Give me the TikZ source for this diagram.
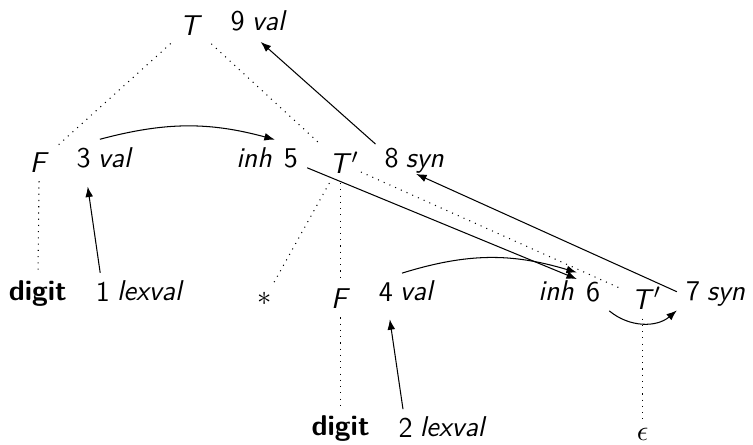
\documentclass[tikz,border=0pt]{standalone}
\usepackage{amsmath}
\usetikzlibrary{arrows.meta}

\begin{document}
\begin{tikzpicture}[font=\sffamily\fontsize{11}{13}\selectfont,
        nm/.style={font=\sffamily\itshape\fontsize{11}{13}\selectfont, inner sep=0pt, text height=0.69em, text depth=0pt},
        tree/.style={dotted},
        dep/.style={-{Latex[length=4pt]}},
        far/.style={dep, shorten >=3.5pt}]
        \useasboundingbox (0,0) rectangle (10.17,6.01);

        % parse tree
        \node (T) at (2.58,5.67) {\textit{T}};
        \node (F1) at (0.53,3.82) {\textit{F}};
        \node (Tp1) at (4.60,3.81) {\textit{T}\rlap{$'$}};
        \node (d1) at (0.51,2.04) {\textbf{digit}};
        \node (ast) at (3.58,1.98) {$*$};
        \node (F2) at (4.60,1.98) {\textit{F}};
        \node (Tp2) at (8.68,1.98) {\textit{T}\rlap{$'$}};
        \node (d2) at (4.60,0.22) {\textbf{digit}};
        \node (eps) at (8.68,0.15) {$\epsilon$};

        \draw[tree] (T) -- (F1);
        \draw[tree] (T) -- (Tp1);
        \draw[tree] (F1) -- (d1);
        \draw[tree] (Tp1) -- (ast);
        \draw[tree] (Tp1) -- (F2);
        \draw[tree] (Tp1) -- (Tp2);
        \draw[tree] (F2) -- (d2);
        \draw[tree] (Tp2) -- (eps);

        % attribute instances
        \node[label={[nm, label distance=-1pt]right:val}] (n9) at (3.21,5.72) {9};
        \node[label={[nm, label distance=-1pt]right:val}] (n3) at (1.13,3.87) {3};
        \node[label={[nm, label distance=1pt]left:inh}] (n5) at (3.93,3.87) {5};
        \node[label={[nm, label distance=-1pt]right:syn}] (n8) at (5.29,3.87) {8};
        \node[label={[nm, label distance=-1pt]right:lexval}] (n1) at (1.39,2.07) {1};
        \node[label={[nm, label distance=-1pt]right:val}] (n4) at (5.21,2.07) {4};
        \node[label={[nm, label distance=1pt]left:inh}] (n6) at (8.01,2.07) {6};
        \node[label={[nm, label distance=-1pt]right:syn}] (n7) at (9.36,2.07) {7};
        \node[label={[nm, label distance=-1pt]right:lexval}] (n2) at (5.48,0.23) {2};

        % dependencies
        \draw[far] (n1) -- (n3);
        \draw[far] (n2) -- (n4);
        \draw[dep] (n3.north east) to[bend left=15] (n5.north west);
        \draw[dep] (n4.north east) to[bend left=17] (n6.north west);
        \draw[dep] (n5.-30) -- (n6.142);
        \draw[dep] (n6.south east) to[bend right=40] (n7.south west);
        \draw[far] (n7.west) -- (n8.-36);
        \draw[far] (n8) -- (n9);
    \end{tikzpicture}
\end{document}
